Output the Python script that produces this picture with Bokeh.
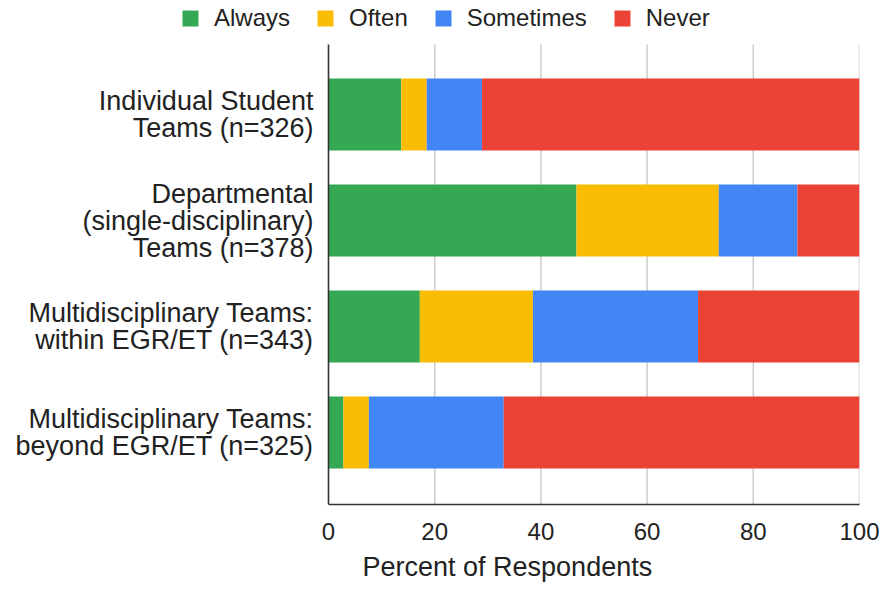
from bokeh.plotting import figure
from bokeh.models import ColumnDataSource, Range1d, FixedTicker, Legend, Title
from bokeh.embed import file_html
from bokeh.resources import INLINE

categories = [
    "Individual Student\nTeams (n=326)",
    "Departmental\n(single-disciplinary)\nTeams (n=378)",
    "Multidisciplinary Teams:\nwithin EGR/ET (n=343)",
    "Multidisciplinary Teams:\nbeyond EGR/ET (n=325)",
]
series = ["Always", "Often", "Sometimes", "Never"]
always = [13.7, 46.7, 17.2, 2.8]
often = [4.8, 26.8, 21.3, 4.8]
sometimes = [10.4, 14.8, 31.1, 25.4]
never = [71.1, 11.7, 30.4, 67.0]
colors = ["#34A853", "#FBBC04", "#4285F4", "#EA4335"]
x_ticks = [0, 20, 40, 60, 80, 100]
x_title = "Percent of Respondents"

ypos = list(range(len(categories)))
source = ColumnDataSource(dict(y=ypos, Always=always, Often=often,
                               Sometimes=sometimes, Never=never))

FONT = "Liberation Sans"

# layout (pixels)
W, H = 896, 592
AX_LEFT, AX_RIGHT = 328, 859      # x=0 and x=100
AX_TOP, AX_BOTTOM = 44, 504       # plot area top / bottom
BAND = 106                        # px per category
FIRST = 114                       # centre of first bar

px_per_unit = (AX_RIGHT - AX_LEFT) / 100.0
x_start = -AX_LEFT / px_per_unit
y_top = -FIRST / BAND
y_area_top = -(FIRST - AX_TOP) / BAND
y_bottom = (AX_BOTTOM - FIRST) / BAND

p = figure(width=W, height=H, output_backend="svg", toolbar_location=None,
           x_range=Range1d(x_start, 100), y_range=Range1d(y_bottom, y_top),
           min_border_left=0, min_border_right=W - AX_RIGHT, min_border_top=0,
           min_border_bottom=H - AX_BOTTOM)
p.outline_line_color = None
p.xgrid.grid_line_color = None
p.ygrid.grid_line_color = None

# vertical grid lines limited to the plot area
p.segment(x0=x_ticks, x1=x_ticks, y0=[y_area_top] * len(x_ticks),
          y1=[y_bottom] * len(x_ticks), line_color="#cccccc", line_width=1.5,
          level="underlay")

renderers = p.hbar_stack(series, y="y", height=0.68, color=colors, line_color=None,
                         source=source)

p.xaxis.ticker = FixedTicker(ticks=x_ticks)
p.xaxis.bounds = (0, 100)
p.xaxis.major_label_text_font = FONT
p.xaxis.major_label_text_font_size = "24px"
p.xaxis.major_label_text_color = "#222222"
p.xaxis.major_label_standoff = 12
p.xaxis.axis_line_color = "#333333"
p.xaxis.axis_line_width = 1.5
p.xaxis.major_tick_line_color = None
p.xaxis.minor_tick_line_color = None

# x-axis title, centred under the 0..100 area
p.add_layout(Title(text=x_title, align="left", offset=362, standoff=14,
                   text_font=FONT, text_font_size="27px",
                   text_font_style="normal", text_color="#222222"), "below")

p.yaxis.fixed_location = 0
p.yaxis.bounds = (y_area_top, y_bottom)
p.yaxis.ticker = FixedTicker(ticks=ypos)
p.yaxis.major_label_overrides = {i: c for i, c in zip(ypos, categories)}
p.yaxis.major_label_text_font = FONT
p.yaxis.major_label_text_font_size = "27px"
p.yaxis.major_label_text_color = "#222222"
p.yaxis.major_label_text_line_height = 0.9
p.yaxis.major_label_standoff = 9
p.yaxis.axis_line_color = "#333333"
p.yaxis.axis_line_width = 1.5
p.yaxis.major_tick_line_color = None
p.yaxis.minor_tick_line_color = None

legend = Legend(items=[(s, [r]) for s, r in zip(series, renderers)],
                orientation="horizontal", location=(180, AX_BOTTOM - 32),
                label_text_font=FONT, label_text_font_size="24px",
                label_text_color="#222222",
                glyph_width=20, glyph_height=20, label_standoff=14, spacing=25,
                padding=0, margin=0, border_line_alpha=0, background_fill_alpha=0)
p.add_layout(legend, "center")

open("out.html", "w").write(file_html(p, INLINE))
